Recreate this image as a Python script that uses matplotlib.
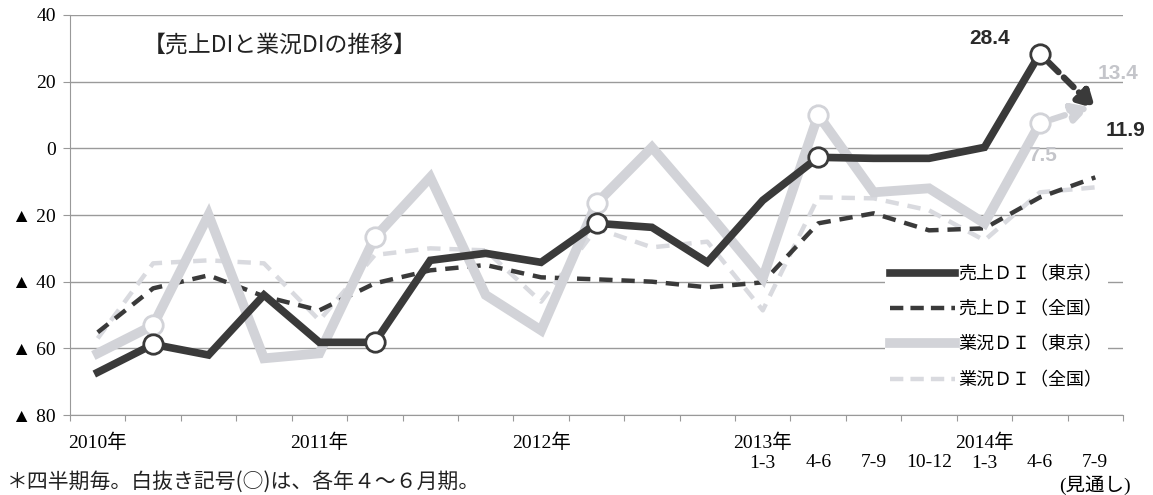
import matplotlib
matplotlib.use("Agg")
import matplotlib.pyplot as pyplot
from matplotlib.lines import Line2D

# quarters 2010 Q1 .. 2014 Q3 (last one is a forecast)
quarter_labels = ["2010年", "", "", "",
                  "2011年", "", "", "",
                  "2012年", "", "", "",
                  "2013年\n1-3", "\n4-6", "\n7-9", "\n10-12",
                  "2014年\n1-3", "\n4-6", "\n7-9\n(見通し)"]

sales_tokyo = [-67.2, -58.8, -62.0, -44.0, -58.2, -58.2, -33.6, -31.5, -34.2,
               -22.5, -23.7, -34.2, -15.6, -2.7, -3.0, -3.0, 0.3, 28.4]
sales_tokyo_forecast = 11.9
sales_national = [-55.2, -42.0, -38.1, -44.4, -48.6, -40.5, -36.6, -35.0, -38.7,
                  -39.3, -40.0, -41.7, -40.2, -22.5, -19.5, -24.6, -24.0, -14.7, -8.7]
business_tokyo = [-61.5, -53.1, -20.0, -63.0, -61.5, -26.7, -8.7, -44.0, -54.6,
                  -16.5, 0.3, -19.0, -39.0, 10.0, -13.2, -12.0, -22.5, 7.5]
business_tokyo_forecast = 13.4
business_national = [-57.0, -34.5, -33.6, -34.5, -51.6, -32.0, -30.0, -30.6, -46.0,
                     -24.0, -29.7, -28.0, -48.6, -14.7, -15.0, -18.6, -27.6, -13.2, -11.7]
yticks = [-80, -60, -40, -20, 0, 20, 40]
ytick_labels = ["▲ 80", "▲ 60", "▲ 40", "▲ 20", "0", "20", "40"]

DARK = "#3a3a3a"
LIGHT = "#d2d3d8"
LIGHT_DASH = "#d9dadf"
SERIF = ["Liberation Serif", "Noto Sans CJK JP"]
JP = ["Noto Sans CJK JP", "DejaVu Sans"]

fig = pyplot.figure(figsize=(11.53, 4.95), dpi=100)
ax = fig.add_axes([0.0607, 0.1616, 0.9133, 0.8081])

x_all = list(range(len(quarter_labels)))
x_hist = x_all[:len(sales_tokyo)]
q2 = [i for i in x_hist if i % 4 == 1]

ax.plot(x_all, business_national, color=LIGHT_DASH, lw=3.2, ls=(0, (3, 2)), zorder=3)
ax.plot(x_all, sales_national, color=DARK, lw=3.2, ls=(0, (3, 2)), zorder=4)
ax.plot(x_hist, business_tokyo, color=LIGHT, lw=7, solid_joinstyle="miter", zorder=5)
ax.plot(q2, [business_tokyo[i] for i in q2], ls="none", marker="o", ms=14,
        mfc="white", mec=LIGHT, mew=2, zorder=6)
ax.plot(x_hist, sales_tokyo, color=DARK, lw=5.5, solid_joinstyle="miter", zorder=7)
ax.plot(q2, [sales_tokyo[i] for i in q2], ls="none", marker="o", ms=14,
        mfc="white", mec=DARK, mew=2, zorder=8)

# forecast arrows
last = len(sales_tokyo) - 1
ax.annotate("", xy=(last + 1, sales_tokyo_forecast), xytext=(last, sales_tokyo[-1]),
            arrowprops=dict(arrowstyle="-|>,head_width=0.55,head_length=1.0", lw=4.5,
                            ls=(0, (2.2, 1.2)), color=DARK, shrinkA=9, shrinkB=0),
            zorder=9)
ax.annotate("", xy=(last + 0.9, business_tokyo_forecast - 1), xytext=(last, business_tokyo[-1]),
            arrowprops=dict(arrowstyle="-|>,head_width=0.55,head_length=1.0", lw=4.5,
                            ls=(0, (2.2, 1.2)), color=LIGHT, shrinkA=9, shrinkB=0),
            zorder=6)

num_font = dict(fontsize=15, fontweight="bold", family="Liberation Sans",
                ha="center", va="center", textcoords="offset points")
ax.annotate(f"{sales_tokyo[-1]:.1f}", (last, sales_tokyo[-1]), xytext=(-36, 11),
            color="#2a2a2a", **num_font)
ax.annotate(f"{business_tokyo[-1]:.1f}", (last, business_tokyo[-1]), xytext=(2, -23),
            color="#c4c5ca", zorder=10, **num_font)
ax.annotate(f"{business_tokyo_forecast:.1f}", (last + 1, business_tokyo_forecast), xytext=(16, 22),
            color="#c4c5ca", annotation_clip=False, **num_font)
ax.annotate(f"{sales_tokyo_forecast:.1f}", (last + 1, sales_tokyo_forecast), xytext=(22, -16),
            color="#2a2a2a", annotation_clip=False, **num_font)

ax.set_xlim(-0.5, len(quarter_labels) - 0.5)
ax.set_ylim(-80, 40)
ax.set_yticks(yticks)
ax.set_yticklabels(ytick_labels, family=SERIF, fontsize=14)
ax.tick_params(axis="y", length=5, color="#999999", pad=5)

ax.set_xticks([i - 0.5 for i in range(len(quarter_labels) + 1)])
ax.set_xticklabels([])
ax.tick_params(axis="x", which="major", direction="out", length=4, color="#999999")
ax.set_xticks(x_all, minor=True)
ax.set_xticklabels(quarter_labels, minor=True, family=SERIF, fontsize=14, linespacing=1.3)
ax.tick_params(axis="x", which="minor", length=0, pad=13)

ax.grid(axis="y", color="#9a9a9a", lw=1)
for side in ["top", "right"]:
    ax.spines[side].set_visible(False)
ax.spines["left"].set_color("#999999")
ax.spines["bottom"].set_color("#999999")

ax.text(0.069, 0.925, "【売上DIと業況DIの推移】", transform=ax.transAxes, family=JP,
        fontsize=16.5, va="center", ha="left", color="#222222")

handles = [Line2D([], [], color=DARK, lw=5.5),
           Line2D([], [], color=DARK, lw=3.2, ls=(0, (3, 1.6))),
           Line2D([], [], color=LIGHT, lw=7),
           Line2D([], [], color=LIGHT_DASH, lw=3.2, ls=(0, (3, 1.6)))]
names = ["売上ＤＩ（東京）", "売上ＤＩ（全国）", "業況ＤＩ（東京）", "業況ＤＩ（全国）"]
leg = ax.legend(handles, names, loc="upper left", bbox_to_anchor=(0.765, 0.41),
                prop={"family": JP, "size": 13}, handlelength=3.6, handletextpad=0.2,
                labelspacing=0.95, frameon=True, framealpha=1, facecolor="white",
                edgecolor="none", borderpad=0.3)
leg.set_zorder(12)

fig.text(0.006, 0.026, "＊四半期毎。白抜き記号(○)は、各年４～６月期。", family=JP,
         fontsize=15, va="center", ha="left", color="#222222")

pyplot.savefig("out.png", dpi=100)
